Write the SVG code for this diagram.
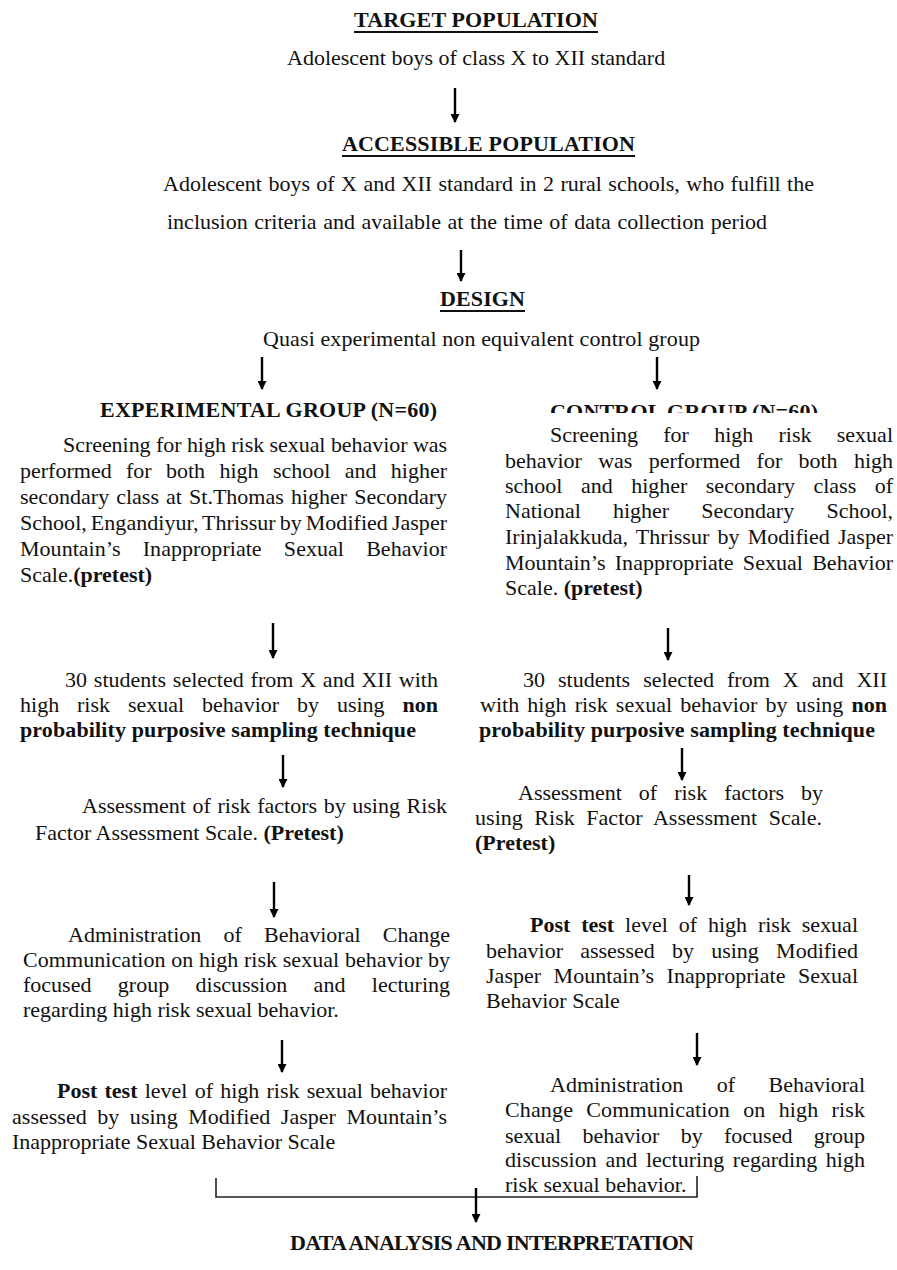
<svg xmlns="http://www.w3.org/2000/svg" width="897" height="1270" viewBox="0 0 897 1270">
<style>
text{font-family:"Liberation Serif","Times New Roman",serif;font-size:22px;fill:#111;}
.b{font-weight:bold;}
.ul{stroke:#111;stroke-width:1.8;}
.arr{stroke:#000;stroke-width:2.4;fill:none;marker-end:url(#ah);}
.br{stroke:#222;stroke-width:1.6;fill:none;}
</style>
<defs>
<marker id="ah" viewBox="0 0 10 10" markerUnits="userSpaceOnUse" markerWidth="10" markerHeight="9" refX="9" refY="5" orient="auto">
<path d="M0,0 L10,5 L0,10 z" fill="#000"/>
</marker>
<clipPath id="ctclip"><rect x="530" y="390" width="320" height="23"/></clipPath>
</defs>
<rect width="897" height="1270" fill="#fff"/>

<g id="target">
<text class="b" x="354" y="27" textLength="244">TARGET POPULATION</text>
<line class="ul" x1="354" y1="32" x2="598" y2="32"/>
<text x="287" y="65">Adolescent boys of class X to XII standard</text>
</g>

<g id="accessible">
<text class="b" x="342" y="151" textLength="293">ACCESSIBLE POPULATION</text>
<line class="ul" x1="342" y1="156" x2="635" y2="156"/>
<text x="163" y="191" textLength="651" word-spacing="0.9">Adolescent boys of X and XII standard in 2 rural schools, who fulfill the</text>
<text x="167" y="229" textLength="600" word-spacing="1.1">inclusion criteria and available at the time of data collection period</text>
</g>

<g id="design">
<text class="b" x="440" y="306" textLength="85">DESIGN</text>
<line class="ul" x1="440" y1="311" x2="525" y2="311"/>
<text x="263" y="346" textLength="437">Quasi experimental non equivalent control group</text>
</g>

<g id="exp-title">
<text class="b" x="100" y="417" textLength="337">EXPERIMENTAL GROUP (N=60)</text>
</g>
<g id="ctrl-title" clip-path="url(#ctclip)">
<text class="b" x="550" y="419" textLength="268">CONTROL GROUP (N=60)</text>
</g>

<g id="exp-screen">
<text x="63" y="452" textLength="384">Screening for high risk sexual behavior was</text>
<text x="20" y="478" textLength="427" word-spacing="8.8">performed for both high school and higher</text>
<text x="20" y="504" textLength="427" word-spacing="1.6">secondary class at St.Thomas higher Secondary</text>
<text x="20" y="530" textLength="427" word-spacing="-1.5">School, Engandiyur, Thrissur by Modified Jasper</text>
<text x="20" y="556" textLength="427" word-spacing="16.7">Mountain’s Inappropriate Sexual Behavior</text>
<text x="20" y="582">Scale.<tspan class="b">(pretest)</tspan></text>
</g>

<g id="ctrl-screen">
<text x="550" y="442" textLength="343" word-spacing="19.7">Screening for high risk sexual</text>
<text x="505" y="468" textLength="388" word-spacing="10.8">behavior was performed for both high</text>
<text x="505" y="493" textLength="388" word-spacing="13">school and higher secondary class of</text>
<text x="505" y="518" textLength="388" word-spacing="26.7">National higher Secondary School,</text>
<text x="505" y="544" textLength="388" word-spacing="2.7">Irinjalakkuda, Thrissur by Modified Jasper</text>
<text x="505" y="570" textLength="388" word-spacing="3.7">Mountain’s Inappropriate Sexual Behavior</text>
<text x="505" y="595">Scale. <tspan class="b">(pretest)</tspan></text>
</g>

<g id="exp-select">
<text x="65" y="687" textLength="373" word-spacing="1.3">30 students selected from X and XII with</text>
<text x="20" y="712" textLength="418" word-spacing="12.4">high risk sexual behavior by using <tspan class="b">non</tspan></text>
<text class="b" x="20" y="737" textLength="396">probability purposive sampling technique</text>
</g>

<g id="ctrl-select">
<text x="523" y="687" textLength="364" word-spacing="7.5">30 students selected from X and XII</text>
<text x="480" y="712" textLength="407" word-spacing="2.7">with high risk sexual behavior by using <tspan class="b">non</tspan></text>
<text class="b" x="479" y="737" textLength="396">probability purposive sampling technique</text>
</g>

<g id="exp-assess">
<text x="82" y="813" textLength="365" word-spacing="1.1">Assessment of risk factors by using Risk</text>
<text x="35" y="840">Factor Assessment Scale. <tspan class="b">(Pretest)</tspan></text>
</g>

<g id="ctrl-assess">
<text x="518" y="800" textLength="305" word-spacing="11.5">Assessment of risk factors by</text>
<text x="475" y="825" textLength="347" word-spacing="5.9">using Risk Factor Assessment Scale.</text>
<text class="b" x="475" y="850">(Pretest)</text>
</g>

<g id="exp-bcc">
<text x="68" y="942" textLength="382" word-spacing="16.7">Administration of Behavioral Change</text>
<text x="23" y="967" textLength="427">Communication on high risk sexual behavior by</text>
<text x="23" y="992" textLength="427" word-spacing="20.9">focused group discussion and lecturing</text>
<text x="23" y="1017">regarding high risk sexual behavior.</text>
</g>

<g id="ctrl-post">
<text x="530" y="932" textLength="328" word-spacing="5.4"><tspan class="b">Post test</tspan> level of high risk sexual</text>
<text x="486" y="958" textLength="372" word-spacing="11.7">behavior assessed by using Modified</text>
<text x="486" y="983" textLength="372" word-spacing="6.9">Jasper Mountain’s Inappropriate Sexual</text>
<text x="486" y="1008">Behavior Scale</text>
</g>

<g id="exp-post">
<text x="57" y="1098" textLength="390" word-spacing="1.7"><tspan class="b">Post test</tspan> level of high risk sexual behavior</text>
<text x="12" y="1124" textLength="435" word-spacing="5">assessed by using Modified Jasper Mountain’s</text>
<text x="12" y="1149">Inappropriate Sexual Behavior Scale</text>
</g>

<g id="ctrl-bcc">
<text x="550" y="1092" textLength="315" word-spacing="28">Administration of Behavioral</text>
<text x="505" y="1117" textLength="360" word-spacing="7.6">Change Communication on high risk</text>
<text x="505" y="1143" textLength="360" word-spacing="15.8">sexual behavior by focused group</text>
<text x="505" y="1167" textLength="360" word-spacing="3.2">discussion and lecturing regarding high</text>
<text x="505" y="1192">risk sexual behavior.</text>
</g>

<g id="analysis">
<text class="b" x="290" y="1250" textLength="404">DATA ANALYSIS AND INTERPRETATION</text>
</g>

<g id="connectors">
<line class="arr" x1="455" y1="88" x2="455" y2="122"/>
<line class="arr" x1="461" y1="250" x2="461" y2="281"/>
<line class="arr" x1="262" y1="357" x2="262" y2="389"/>
<line class="arr" x1="657" y1="357" x2="657" y2="389"/>
<line class="arr" x1="273" y1="623" x2="273" y2="658"/>
<line class="arr" x1="668" y1="628" x2="668" y2="660"/>
<line class="arr" x1="283" y1="755" x2="283" y2="787"/>
<line class="arr" x1="682" y1="748" x2="682" y2="780"/>
<line class="arr" x1="274" y1="882" x2="274" y2="917"/>
<line class="arr" x1="689" y1="875" x2="689" y2="905"/>
<line class="arr" x1="282" y1="1040" x2="282" y2="1072"/>
<line class="arr" x1="697" y1="1033" x2="697" y2="1065"/>
<path class="br" d="M216,1178 V1197 H697 V1176"/>
<line class="arr" x1="476" y1="1188" x2="476" y2="1222"/>
</g>
</svg>
